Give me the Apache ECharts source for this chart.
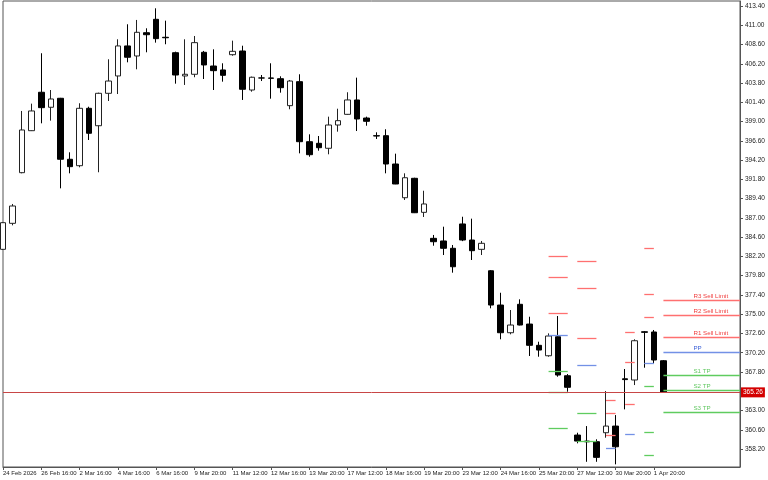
<!DOCTYPE html>
<html><head><meta charset="utf-8">
<script src="https://cdn.jsdelivr.net/npm/echarts@6/dist/echarts.min.js"></script>
<style>html,body{margin:0;padding:0;background:#fff}#c{width:768px;height:480px}</style>
</head><body><div id="c"></div><script>
const categories = [
 '24 Feb 2026','24 Feb 20:00','25 Feb 16:00','25 Feb 20:00','26 Feb 16:00','26 Feb 20:00','27 Feb 16:00','27 Feb 20:00',
 '2 Mar 16:00','2 Mar 20:00','3 Mar 16:00','3 Mar 20:00','4 Mar 16:00','4 Mar 20:00','5 Mar 16:00','5 Mar 20:00',
 '6 Mar 16:00','6 Mar 20:00','9 Mar 12:00','9 Mar 16:00','9 Mar 20:00','10 Mar 12:00','10 Mar 16:00','10 Mar 20:00',
 '11 Mar 12:00','11 Mar 16:00','11 Mar 20:00','12 Mar 12:00','12 Mar 16:00','12 Mar 20:00','13 Mar 12:00','13 Mar 16:00',
 '13 Mar 20:00','16 Mar 12:00','16 Mar 16:00','16 Mar 20:00','17 Mar 12:00','17 Mar 16:00','17 Mar 20:00','18 Mar 12:00',
 '18 Mar 16:00','18 Mar 20:00','19 Mar 12:00','19 Mar 16:00','19 Mar 20:00','20 Mar 12:00','20 Mar 16:00','20 Mar 20:00',
 '23 Mar 12:00','23 Mar 16:00','23 Mar 20:00','24 Mar 12:00','24 Mar 16:00','24 Mar 20:00','25 Mar 12:00','25 Mar 16:00',
 '25 Mar 20:00','26 Mar 12:00','26 Mar 16:00','26 Mar 20:00','27 Mar 12:00','27 Mar 16:00','27 Mar 20:00','30 Mar 16:00',
 '30 Mar 20:00','31 Mar 16:00','31 Mar 20:00','1 Apr 16:00','1 Apr 20:00','2 Apr 16:00',
 ' ','  ','   ','    ','     ','      ','       ','        '
];
const openV = [383.08,386.32,392.63,397.86,402.65,400.78,401.90,394.30,393.50,400.65,
 398.48,402.52,404.68,408.42,407.17,410.07,411.74,409.50,407.58,404.68,
 404.89,407.63,405.92,405.43,407.33,407.79,402.93,404.43,404.43,404.34,
 400.98,403.97,396.49,396.29,395.67,398.57,399.90,401.69,399.44,397.24,
 397.24,393.71,389.51,391.93,387.69,384.45,384.12,383.21,386.24,384.24,
 383.08,380.41,376.14,372.69,376.23,373.77,371.12,369.82,372.19,367.33,
 359.94,359.19,359.11,360.23,361.06,366.95,366.80,372.81,372.78,369.20];
const highV = [386.45,388.73,400.32,401.23,407.51,402.93,401.95,395.17,401.28,400.85,
 402.60,406.76,409.25,411.12,411.66,410.62,413.11,411.57,407.71,409.25,
 409.66,407.80,408.00,406.26,409.08,408.45,404.60,404.80,406.26,404.64,
 404.18,404.89,397.41,397.20,399.61,400.60,402.65,404.47,399.61,397.66,
 398.04,395.00,392.55,392.00,390.38,384.87,385.90,383.62,387.14,386.90,
 384.12,380.50,377.67,375.52,376.85,374.68,371.57,372.61,374.77,367.54,
 360.23,361.06,359.41,365.42,362.43,368.17,371.87,372.90,373.03,369.29];
const lowV = [383.00,386.07,392.55,397.82,398.78,399.11,390.68,392.55,393.30,396.70,
 392.68,401.56,402.43,406.38,405.51,407.63,408.83,408.63,403.72,403.56,
 404.52,404.30,402.93,403.97,407.20,401.69,402.72,404.05,401.85,402.60,
 400.53,395.04,394.62,395.37,394.92,397.74,399.85,397.82,398.48,396.83,
 392.55,391.20,389.23,387.60,387.11,383.53,382.37,380.17,384.10,381.75,
 382.37,375.73,371.87,372.49,373.60,369.79,369.70,369.70,367.21,365.34,
 358.91,356.61,356.61,359.61,356.29,363.14,366.17,368.33,368.88,365.26];
const closeV = [386.40,388.48,397.95,400.32,400.73,401.81,394.30,393.38,400.65,397.54,
 402.52,404.05,408.42,407.01,410.12,409.82,409.33,409.44,404.80,404.89,
 408.83,406.05,405.34,404.76,407.75,403.02,404.52,404.43,404.39,403.22,
 404.05,396.49,394.87,395.74,398.57,399.11,401.69,399.32,399.03,397.20,
 393.71,391.22,392.00,387.64,388.73,384.03,383.21,380.91,384.24,382.91,
 383.83,376.14,372.69,373.65,373.65,371.12,370.53,372.28,367.42,365.89,
 359.19,359.10,357.16,361.06,358.48,366.85,371.69,372.74,369.29,365.26];
const priceTicks = [358.2,360.6,363.0,365.4,367.8,370.2,372.6,375.0,377.4,379.8,382.2,384.6,
 387.0,389.4,391.8,394.2,396.6,399.0,401.4,403.8,406.2,408.6,411.0,413.4];
const currentPrice = 365.26;
const pivotFrom = [57, 60, 63, 65, 67, 69];
const pivotTo   = [59, 62, 64, 66, 68, 77];
const R3 = [382.16, 381.54, 364.30, 372.78, 383.21, 376.73];
const R2 = [379.54, 378.17, 362.65, 369.00, 377.48, 374.86];
const R1 = [375.06, 372.03, 359.90, 363.81, 374.61, 372.07];
const PP = [372.37, 368.67, 358.29, 360.07, 368.88, 370.20];
const S1 = [367.95, 362.65, null, null, 365.96, 367.42];
const S2 = [365.30, 359.16, null, null, 360.28, 365.51];
const S3 = [360.85, null, null, null, 357.45, 362.81];
const levelLabels = ['R3 Sell Limit','R2 Sell Limit','R1 Sell Limit','PP','S1 TP','S2 TP','S3 TP'];

const levelValues = [R3, R2, R1, PP, S1, S2, S3];
const lineColors = ['#ff7070','#ff7070','#ff7070','#7391e6','#5fcc5f','#5fcc5f','#5fcc5f'];
const textColors = ['#f03c3c','#f03c3c','#f03c3c','#3f63d8','#62c862','#62c862','#62c862'];
const FONT = 'Liberation Sans';
const lastBar = openV.length;

const candleData = openV.map((o, i) => [o, closeV[i], lowV[i], highV[i]]);
const markData = [];
pivotFrom.forEach((f, g) => {
  const last = g === pivotFrom.length - 1;
  levelValues.forEach((arr, k) => {
    const v = arr[g];
    if (v == null) return;
    markData.push([
      {coord: [f, v], lineStyle: {color: lineColors[k], width: 1.3},
       label: last ? {show: true, formatter: levelLabels[k], color: textColors[k], position: 'insideStartTop',
                      distance: [30, 1], fontSize: 6.2, fontFamily: FONT} : {show: false}},
      {coord: [pivotTo[g], v]}
    ]);
  });
});
markData.push({yAxis: currentPrice, lineStyle: {color: '#c84646', width: 1},
  label: {show: true, position: 'end', formatter: currentPrice.toFixed(2), color: '#fff', backgroundColor: '#d40000',
          padding: [2, 2, 1, 2], distance: 1, fontSize: 6.5, fontFamily: FONT}});

const chart = echarts.init(document.getElementById('c'), null, {renderer: 'canvas'});
chart.setOption({
  animation: false,
  backgroundColor: '#fff',
  grid: {left: 2, right: 28, top: 1, bottom: 13, show: true, borderColor: '#555', borderWidth: 1, backgroundColor: '#fff'},
  xAxis: {
    type: 'category', data: categories, boundaryGap: false,
    axisLine: {lineStyle: {color: '#555'}},
    axisTick: {interval: (i) => i % 4 === 0 && i < lastBar, length: 3, lineStyle: {color: '#555'}},
    axisLabel: {interval: (i) => i % 4 === 0 && i < lastBar, align: 'left', fontSize: 6, color: '#222', margin: 3, fontFamily: FONT,
                formatter: v => v.trim()},
    splitLine: {show: false}
  },
  yAxis: {
    type: 'value', position: 'right', min: 355.96, max: 414.02, scale: true,
    axisLine: {show: true, lineStyle: {color: '#555'}},
    axisTick: {show: true, customValues: priceTicks, length: 3, lineStyle: {color: '#555'}},
    axisLabel: {customValues: priceTicks, formatter: v => v.toFixed(2), fontSize: 6.5, color: '#222', margin: 5, fontFamily: FONT},
    splitLine: {show: false}
  },
  series: [{
    type: 'candlestick', data: candleData, barWidth: 6,
    itemStyle: {color: '#fff', color0: '#000', borderColor: '#222', borderColor0: '#000', borderWidth: 1},
    markLine: {silent: true, symbol: ['none', 'none'], animation: false, data: markData,
               lineStyle: {type: 'solid'}, label: {show: false}}
  }]
});
</script></body></html>
